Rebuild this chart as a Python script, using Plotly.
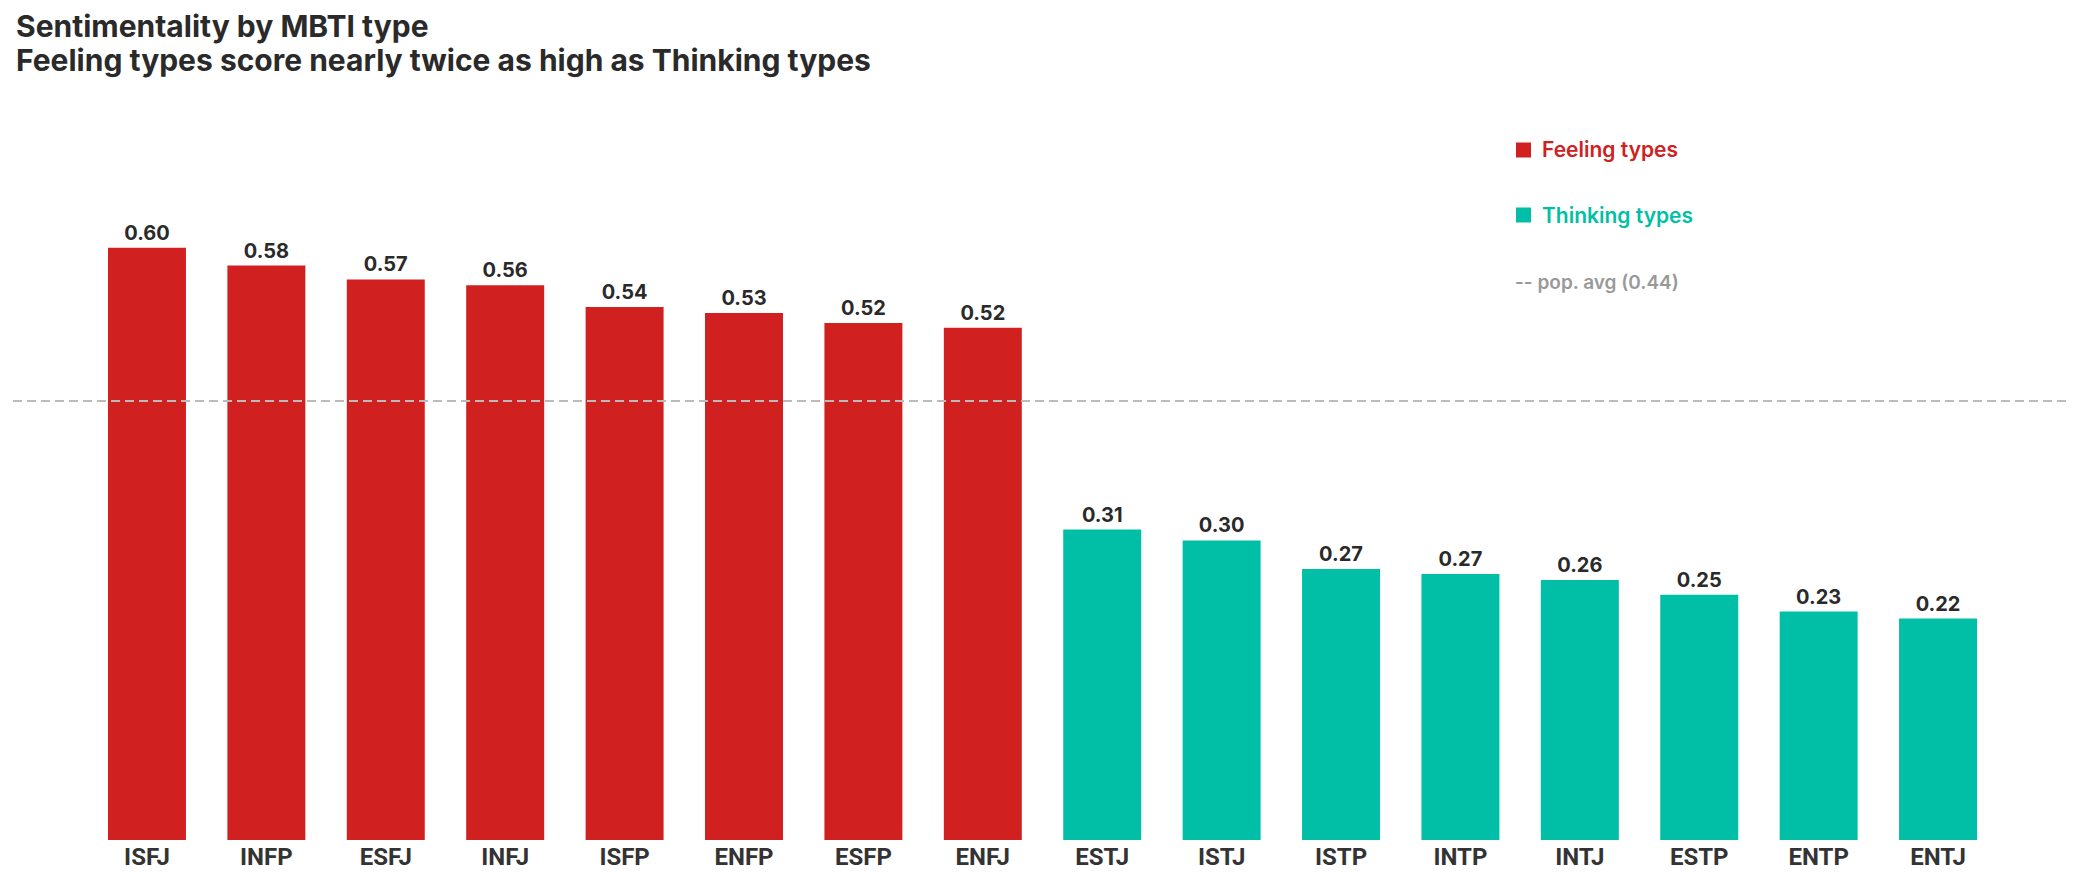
import plotly.graph_objects as go

# ---- data ----
feeling_types = ["ISFJ", "INFP", "ESFJ", "INFJ", "ISFP", "ENFP", "ESFP", "ENFJ"]
feeling_values = [0.599, 0.581, 0.567, 0.561, 0.539, 0.533, 0.523, 0.518]
thinking_types = ["ESTJ", "ISTJ", "ISTP", "INTP", "INTJ", "ESTP", "ENTP", "ENTJ"]
thinking_values = [0.314, 0.303, 0.274, 0.269, 0.263, 0.248, 0.231, 0.224]
pop_avg = 0.444
title_lines = ["Sentimentality by MBTI type",
               "Feeling types score nearly twice as high as Thinking types"]

RED = "#D02020"
TEAL = "#00BFA6"
DARK = "#2a2a2a"
GRAY = "#999999"

W, H = 2085, 883
OFF = 8  # page body margin
ML, MR, MT, MB = 13 - OFF, 15 + OFF, 80 - OFF, 43 + OFF
PW, PH = W - ML - MR, H - MT - MB

def px_x(px):  # page pixel -> paper
    return (px - OFF - ML) / PW

def px_y(py):
    return (H - MB - (py - OFF)) / PH

fig = go.Figure()
for name, cats, vals, col in [("Feeling types", feeling_types, feeling_values, RED),
                              ("Thinking types", thinking_types, thinking_values, TEAL)]:
    fig.add_trace(go.Bar(
        x=cats, y=vals, name=name, marker=dict(color=col, line=dict(width=0)),
        text=[f"{v:.2f}" for v in vals], textposition="outside",
        textfont=dict(family="Inter", size=20, color=DARK, weight=700),
        cliponaxis=False, width=0.653, showlegend=False,
    ))

fig.add_shape(type="line", xref="paper", yref="y", x0=0, x1=1, y0=pop_avg, y1=pop_avg,
              line=dict(color="#BBBBBB", width=2, dash="9px,5px"), layer="above")

# legend (manual)
legend_items = [("Feeling types", RED, 150), ("Thinking types", TEAL, 215)]
for label, col, cy in legend_items:
    fig.add_shape(type="rect", xref="paper", yref="paper",
                  x0=px_x(1516), x1=px_x(1531), y0=px_y(cy + 7.5), y1=px_y(cy - 7.5),
                  fillcolor=col, line=dict(width=0))
    fig.add_annotation(xref="paper", yref="paper", x=px_x(1540), y=px_y(cy),
                       text=label, showarrow=False, xanchor="left", yanchor="middle",
                       font=dict(family="Inter", size=21, color=col, weight=600))
fig.add_annotation(xref="paper", yref="paper", x=px_x(1513), y=px_y(282),
                   text=f"-- pop. avg ({pop_avg:.2f})", showarrow=False, xanchor="left",
                   yanchor="middle", font=dict(family="Inter", size=19, color=GRAY, weight=600))

# title (two lines)
for line, cy in zip(title_lines, [26, 60]):
    fig.add_annotation(xref="paper", yref="paper", x=px_x(14), y=px_y(cy),
                       text=line, showarrow=False, xanchor="left", yanchor="middle",
                       font=dict(family="Inter", size=30, color=DARK, weight=700))

fig.update_layout(
    width=W, height=H,
    margin=dict(l=ML, r=MR, t=MT, b=MB),
    plot_bgcolor="white", paper_bgcolor="white",
    bargap=0.35,
    xaxis=dict(range=[-1.122, 16.105], showgrid=False, zeroline=False, showline=False,
               ticks="", tickfont=dict(family="Liberation Sans Narrow, Roboto", size=24, color="#333333", weight=700),
               categoryorder="array", categoryarray=feeling_types + thinking_types),
    yaxis=dict(range=[0, 0.7687], showgrid=False, zeroline=False, showline=False,
               showticklabels=False, ticks=""),
)

fig.write_html("out.html")
